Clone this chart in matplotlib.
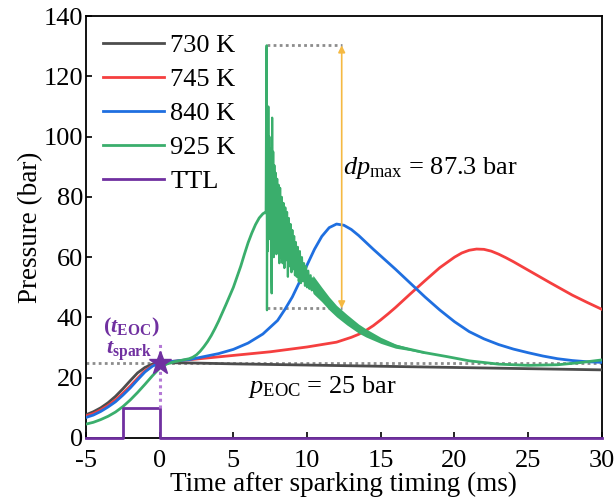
import numpy as np
import matplotlib
matplotlib.use("Agg")
import matplotlib.pyplot as plt

plt.rcParams['font.family'] = ['Liberation Serif', 'DejaVu Serif']
plt.rcParams['mathtext.fontset'] = 'custom'
plt.rcParams['mathtext.rm'] = 'Liberation Serif'
plt.rcParams['mathtext.it'] = 'Liberation Serif:italic'
plt.rcParams['mathtext.bf'] = 'Liberation Serif:bold'
plt.rcParams['mathtext.bfit'] = 'Liberation Serif:bold:italic'
plt.rcParams['axes.unicode_minus'] = False

# --- data ---
t_730 = [-5, -4.5, -4, -3.5, -3, -2.5, -2, -1.5, -1, -0.5, 0, 2, 5, 10, 15, 20, 25, 30]
p_730 = [7.7, 8.7, 10.0, 11.7, 13.8, 16.3, 19.0, 21.6, 23.4, 24.5, 25.0, 24.9, 24.6, 24.2,
         23.8, 23.4, 23.0, 22.6]

t_745 = [-5, -4.5, -4, -3.5, -3, -2.5, -2, -1.5, -1, -0.5, 0, 2.5, 5, 7.5, 10, 12, 13,
         13.5, 14, 14.5, 15, 15.5, 16, 17, 18, 19, 20, 20.5, 21, 21.5, 22, 22.5, 23, 23.5,
         24, 25, 26.5, 28, 29, 30]
p_745 = [7.3, 8.1, 9.3, 10.8, 12.6, 14.8, 17.2, 19.8, 22.3, 24.0, 25.0, 26.2, 27.4, 28.6,
         30.2, 31.8, 33.4, 34.4, 35.7, 37.3, 39.2, 41.2, 43.3, 47.8, 52.2, 56.5, 60.0, 61.4,
         62.3, 62.7, 62.6, 62.0, 61.0, 59.8, 58.5, 55.7, 51.5, 47.4, 45.0, 42.7]

t_840 = [-5, -4.5, -4, -3.5, -3, -2.5, -2, -1.5, -1, -0.5, 0, 2, 4, 5, 6, 7, 8, 8.5, 9,
         9.5, 10, 10.5, 11, 11.5, 12, 12.5, 13, 13.5, 14, 14.5, 15, 16, 17, 18, 19, 20, 21,
         22, 23, 24, 25, 26, 27, 28, 29, 30]
p_840 = [6.8, 7.6, 8.8, 10.3, 12.0, 14.2, 16.6, 19.3, 21.9, 23.8, 25.0, 26.0, 28.0, 29.4,
         31.5, 34.5, 39.0, 42.7, 46.8, 51.9, 57.4, 62.6, 66.9, 69.8, 71.0, 70.6, 69.2, 67.2,
         64.9, 62.6, 60.4, 56.0, 51.4, 46.8, 42.5, 38.6, 35.3, 32.9, 31.0, 29.5, 28.3, 27.2,
         26.3, 25.7, 25.3, 25.1]

t_925 = [-5, -4.5, -4, -3.5, -3, -2.5, -2, -1.5, -1, -0.5, 0, 0.5, 1, 1.5, 2, 2.25, 2.5,
         2.75, 3, 3.25, 3.5, 3.75, 4, 4.5, 5, 5.5, 5.75, 6, 6.25, 6.5, 6.75, 7, 7.2,
         10.5, 11, 11.5, 12, 12.7, 13.5, 14, 15, 16, 17, 18, 19.5, 21, 23, 25, 27, 28.5, 30]
p_925 = [4.6, 5.2, 6.1, 7.2, 8.6, 10.4, 12.6, 15.1, 17.8, 20.6, 23.2, 24.6, 25.3, 25.8,
         26.3, 26.8, 27.6, 28.8, 30.3, 32.0, 34.0, 36.3, 38.8, 44.3, 50.0, 57.0, 61.0, 64.8,
         68.0, 70.8, 73.0, 74.4, 75.0,
         50.5, 47.5, 44.6, 42.0, 39.2, 36.3, 34.8, 32.4, 30.5, 29.4, 28.3, 27.0, 25.6, 24.5,
         24.1, 24.3, 25.0, 25.9]

# knock oscillation of the 925 K trace
t_knock = [7.20, 7.24, 7.26, 7.28, 7.31, 7.34, 7.37, 7.40, 7.44, 7.48, 7.52, 7.56, 7.60,
           7.63, 7.66, 7.70, 7.74, 7.78, 7.82, 7.87, 7.92, 7.97, 8.02, 8.07, 8.12, 8.17,
           8.22, 8.28, 8.34, 8.40, 8.46, 8.52, 8.58, 8.64, 8.70, 8.76, 8.82, 8.88, 8.94,
           9.00, 9.06, 9.12, 9.18, 9.24, 9.30, 9.37, 9.44, 9.51, 9.58, 9.65, 9.72, 9.79,
           9.86, 9.93, 10.00, 10.08, 10.16, 10.24, 10.32, 10.40, 10.48, 10.56]
p_knock = [75, 128, 130.3, 42.4, 104, 62, 110, 70, 100, 66, 96, 60, 48,
           106.3, 62, 95, 60, 90.5, 63, 88, 61, 86, 62, 84, 58, 83,
           60, 80, 58, 78, 56.4, 76.5, 59, 75, 53.5, 73, 57, 71, 55,
           69, 56, 67, 54, 65, 53.5, 63.4, 52, 62, 51.4, 60, 52, 58,
           50.5, 57, 50, 55.5, 49.5, 54, 49, 53, 48.5, 51.5]

# residual ringing band after the knock
t_band = [10.4, 11, 11.5, 12, 12.7, 13.5, 14, 15, 16, 17, 18]
hi_band = [54, 50.0, 46.8, 44.0, 41.0, 37.8, 36.2, 33.4, 31.2, 29.8, 28.6]
lo_band = [48, 45.2, 42.5, 40.2, 37.5, 34.8, 33.5, 31.4, 29.8, 29.0, 28.0]

t_ttl = [-5, -2.5, -2.5, 0, 0, 30]
p_ttl = [0, 0, 10, 10, 0, 0]

p_eoc = 25
dp_top = 130.3
dp_bot = 43.0
t_knock_start = 7.26
t_arrow = 12.35

c_730 = '#4d4d4d'
c_745 = '#f53f3f'
c_840 = '#1f6fe0'
c_925 = '#3aae6c'
c_ttl = '#7030a0'

fig = plt.figure(figsize=(6.16, 5.04), dpi=100)
ax = fig.add_axes([0.1396, 0.131, 0.8374, 0.837])

lw = 2.0
ax.plot(t_730, p_730, color=c_730, lw=lw, label='730 K', zorder=3)
ax.plot(t_745, p_745, color=c_745, lw=lw, label='745 K', zorder=3)
ax.plot(t_840, p_840, color=c_840, lw=lw, label='840 K', zorder=3)
ax.plot(t_925, p_925, color=c_925, lw=lw, label='925 K', zorder=4)
ax.plot(t_knock, p_knock, color=c_925, lw=1.6, zorder=4)
ax.fill_between(t_band, lo_band, hi_band, color=c_925, lw=0, zorder=4)
ax.plot(t_ttl, p_ttl, color=c_ttl, lw=lw, label='TTL', zorder=5, clip_on=False)

# reference lines
ax.axhline(p_eoc, color='#8c8c8c', ls=(0, (1, 1.2)), lw=2.0, zorder=2)
ax.plot([t_knock_start, t_arrow], [dp_top, dp_top], color='#8c8c8c', ls=(0, (1, 1.2)), lw=2.0)
ax.plot([t_knock_start, t_arrow], [dp_bot, dp_bot], color='#8c8c8c', ls=(0, (1, 1.2)), lw=2.0)
ax.annotate('', xy=(t_arrow, dp_top), xytext=(t_arrow, dp_bot),
            arrowprops=dict(arrowstyle='<|-|>', color='#f5b942', lw=1.2,
                            mutation_scale=10, shrinkA=0, shrinkB=0))
ax.plot([0, 0], [10, 31.5], color='#b57ad6', ls=(0, (1, 1.2)), lw=2.2, zorder=6)
ax.plot([0], [p_eoc], marker='*', color=c_ttl, ms=17, zorder=7)

ax.text(12.45, 89.5, r'$dp_{\mathrm{max}}$ = 87.3 bar', fontsize=19, ha='left', va='center')
ax.text(6.0, 16.8, r'$p_{\mathrm{EOC}}$ = 25 bar', fontsize=19, ha='left', va='center')
ax.text(-1.95, 36.8, r'$\mathbf{(}\mathbfit{t}_{\mathbf{EOC}}\mathbf{)}$', fontsize=16,
        color=c_ttl, ha='center', va='center')
ax.text(-2.05, 28.8, r'$\mathbfit{t}_{\mathbf{spark}}$', fontsize=16,
        color=c_ttl, ha='center', va='center')

ax.set_xlim(-5, 30)
ax.set_ylim(0, 140)
ax.set_xticks(np.arange(-5, 31, 5))
ax.set_yticks(np.arange(0, 141, 20))
ax.tick_params(direction='in', length=4, width=1.2, labelsize=19)
ax.tick_params(axis='x', pad=8.5)
ax.tick_params(axis='y', pad=2)
for s in ax.spines.values():
    s.set_linewidth(1.3)
ax.set_xlabel('Time after sparking timing (ms)', fontsize=19.5, labelpad=0)
ax.set_ylabel('Pressure (bar)', fontsize=19.5, labelpad=0)

ax.legend(loc='upper left', frameon=False, fontsize=19, handlelength=2.3,
          handletextpad=0.25, labelspacing=0.4, borderaxespad=0.3,
          borderpad=0.35)

fig.savefig('out.png', dpi=100)
